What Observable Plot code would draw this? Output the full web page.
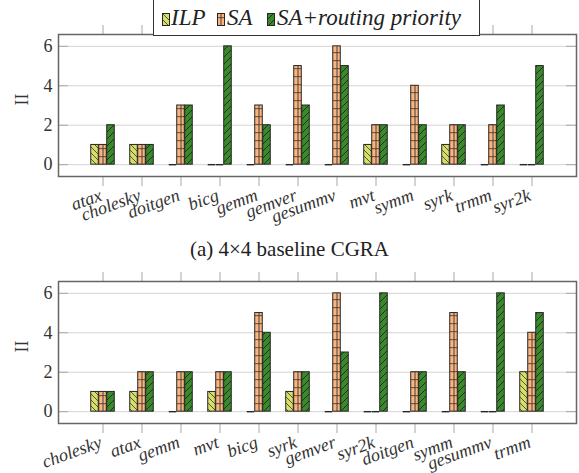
<!DOCTYPE html>
<html><head><meta charset="utf-8">
<script src="https://cdn.jsdelivr.net/npm/d3@7"></script>
<script src="https://cdn.jsdelivr.net/npm/@observablehq/plot@0.6"></script>
<style>
body{margin:0;background:#fff;width:579px;height:473px;position:relative;overflow:hidden;font-family:"Liberation Serif",serif;color:#222;}
#p1{position:absolute;left:0;top:0;z-index:1}
#p2{position:absolute;left:0;top:247px;z-index:1}
#legend{position:absolute;left:153px;top:-1px;width:327px;height:37px;border:1.3px solid #333;background:#fff;box-sizing:border-box;font-family:"Liberation Serif",serif;font-style:italic;font-size:23px;z-index:3;white-space:nowrap}
#legend .sw{position:absolute;top:13px;width:8px;height:13px;display:block}
#legend .it{position:absolute;top:4px;line-height:28px}
#cap{position:absolute;left:0;top:236px;width:579px;text-align:center;font-size:21px;z-index:3;line-height:26px}
</style></head>
<body>
<div id="legend"></div>
<div id="p1"></div>
<div id="cap">(a) 4×4 baseline CGRA</div>
<div id="p2"></div>
<script>
const series = ["ILP", "SA", "SA+routing priority"];
const seriesColors = ["#d8df68", "#fbb47e", "#3a8a2c"];
const cats1 = ["atax","cholesky","doitgen","bicg","gemm","gemver","gesummv","mvt","symm","syrk","trmm","syr2k"];
const ilp1 = [1,1,0,0,0,0,0,1,0,1,0,0];
const sa1  = [1,1,3,0,3,5,6,2,4,2,2,0];
const rp1  = [2,1,3,6,2,3,5,2,2,2,3,5];
const cats2 = ["cholesky","atax","gemm","mvt","bicg","syrk","gemver","syr2k","doitgen","symm","gesummv","trmm"];
const ilp2 = [1,1,0,1,0,1,0,0,0,0,0,2];
const sa2  = [1,2,2,2,5,2,6,0,2,5,0,4];
const rp2  = [1,2,2,2,4,2,3,6,2,2,6,5];
const yTicks = [0,2,4,6];
const yLabel = "II";
const FF = "Liberation Serif";

function chart(id, cats, ilp, sa, rp, height, marginBottom) {
  const rows = cats.map((c,i)=>({cat:c, ilp:ilp[i], sa:sa[i], rp:rp[i]}));
  const W = 579, mL = 58, mR = 3, mT = 34;
  const po = 0.5645;
  const inner = W - mL - mR;
  const step = inner / (cats.length + 2*po);
  const bw = 8;
  const inset = (step - bw) / 2;
  const innerH = height - mT - marginBottom;
  const yDom = [-0.6, 6.6];
  const y0px = mT + innerH * (yDom[1] - 0) / (yDom[1] - yDom[0]);
  const defs = () => {
    const g = d3.create("svg:defs");
    const p1 = g.append("pattern").attr("id", id+"-ilp").attr("patternUnits","userSpaceOnUse").attr("width",6).attr("height",6);
    p1.append("rect").attr("width",6).attr("height",6).attr("fill",seriesColors[0]);
    p1.append("path").attr("d","M0,0L6,6M-1,5L1,7M5,-1L7,1").attr("stroke","#333").attr("stroke-width",0.8);
    const p2 = g.append("pattern").attr("id", id+"-sa").attr("patternUnits","userSpaceOnUse").attr("width",8).attr("height",8).attr("y", y0px);
    p2.append("rect").attr("width",8).attr("height",8).attr("fill",seriesColors[1]);
    p2.append("path").attr("d","M0,0.4H8").attr("stroke","#333").attr("stroke-width",0.9);
    const p3 = g.append("pattern").attr("id", id+"-rp").attr("patternUnits","userSpaceOnUse").attr("width",7).attr("height",7);
    p3.append("rect").attr("width",7).attr("height",7).attr("fill",seriesColors[2]);
    p3.append("path").attr("d","M0,7L7,0M-1,1L1,-1M6,8L8,6").attr("stroke","#1b1b1b").attr("stroke-width",0.8);
    return g.node();
  };
  const keys = ["ilp","sa","rp"];
  const offs = [-bw, 0, bw];
  const barMarks = keys.flatMap((k,j)=>[
    Plot.barY(rows, {x:"cat", y:k, dx:offs[j], insetLeft:inset, insetRight:inset, fill:`url(#${id}-${k})`, stroke:"#262626", strokeWidth:1}),
    Plot.tickY(rows.filter(r=>r[k]===0), {x:"cat", y:k, dx:offs[j], insetLeft:inset, insetRight:inset, stroke:"#262626", strokeWidth:1.4})
  ]);
  return Plot.plot({
    width: W, height, marginLeft: mL, marginRight: mR, marginTop: mT, marginBottom,
    style: {fontFamily: FF, fontSize: "18px", color: "#333", background: "transparent"},
    x: {type: "band", domain: cats, paddingInner: 0, paddingOuter: po, align: 0.5},
    y: {domain: yDom},
    marks: [
      defs,
      Plot.gridY(yTicks, {stroke: "#d4d4d4", strokeOpacity: 1, strokeWidth: 1}),
      Plot.tickY(yTicks, {y: d=>d, insetRight: inner - 10, stroke: "#a8a8a8", strokeWidth: 1}),
      Plot.tickY(yTicks, {y: d=>d, insetLeft: inner - 10, stroke: "#a8a8a8", strokeWidth: 1}),
      ...barMarks,
      Plot.ruleX(rows.filter(r=>r.sa>0), {x:"cat", y1:0, y2:"sa", stroke:"#333", strokeWidth:0.9}),
      Plot.axisY(yTicks, {tickSize: 0, tickPadding: 6, label: null, fontSize: 18, fontFamily: FF}),
      Plot.text([yLabel], {frameAnchor: "left", dx: -36, rotate: -90, fontSize: 18, fontFamily: FF}),
      Plot.axisX({anchor: "bottom", tickSize: 10, text: null, stroke: "#a8a8a8", label: null}),
      Plot.axisX({anchor: "top", tickSize: 10, text: null, stroke: "#a8a8a8", label: null}),
      Plot.axisX({anchor: "bottom", tickSize: 0, tickPadding: 18, tickRotate: -20, dx: -2, fontStyle: "italic", fontSize: 18, fontFamily: FF, label: null}),
      Plot.frame({stroke: "#666", strokeWidth: 1.5})
    ]
  });
}

document.getElementById("p1").append(chart("c1", cats1, ilp1, sa1, rp1, 236, 60));
document.getElementById("p2").append(chart("c2", cats2, ilp2, sa2, rp2, 226, 50));

const leg = document.getElementById("legend");
const swLeft = [8, 63, 113];
const txLeft = [17, 73, 123];
["ilp","sa","rp"].forEach((k,j)=>{
  const sw = document.createElementNS("http://www.w3.org/2000/svg","svg");
  sw.setAttribute("class","sw"); sw.setAttribute("width","8"); sw.setAttribute("height","13");
  sw.style.left = swLeft[j] + "px";
  sw.innerHTML = `<rect x="0.5" y="0.5" width="7" height="12" fill="url(#c1-${k})" stroke="#262626" stroke-width="1"/>` + (k==="sa" ? `<line x1="4" x2="4" y1="0.5" y2="12.5" stroke="#333" stroke-width="0.9"/>` : "");
  leg.append(sw);
  const s = document.createElement("span"); s.className = "it"; s.textContent = series[j];
  s.style.left = txLeft[j] + "px";
  leg.append(s);
});
</script>
</body></html>
